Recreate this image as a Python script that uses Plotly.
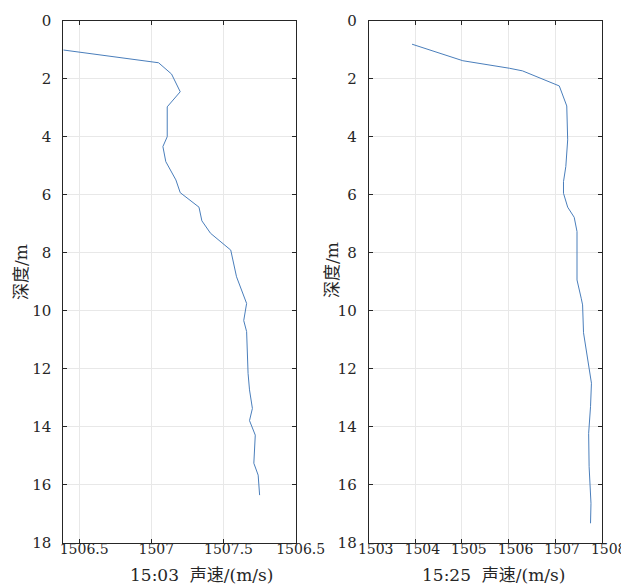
import plotly.graph_objects as go
from plotly.subplots import make_subplots

# 15:03 profile
speed_1503 = [1506.39, 1507.05, 1507.14, 1507.20, 1507.11, 1507.11, 1507.08, 1507.10,
              1507.17, 1507.20, 1507.33, 1507.35, 1507.41, 1507.55, 1507.59, 1507.65,
              1507.66, 1507.64, 1507.66, 1507.67, 1507.68, 1507.70, 1507.68, 1507.72,
              1507.71, 1507.74, 1507.75]
depth_1503 = [1.01, 1.45, 1.84, 2.45, 2.97, 4.0, 4.34, 4.86,
              5.49, 5.93, 6.43, 6.90, 7.33, 7.91, 8.83, 9.57,
              9.75, 10.34, 10.72, 12.16, 12.73, 13.37, 13.79, 14.29,
              15.26, 15.67, 16.36]

# 15:25 profile
speed_1525 = [1503.93, 1505.02, 1506.02, 1506.30, 1507.09, 1507.25, 1507.27, 1507.23,
              1507.18, 1507.18, 1507.27, 1507.41, 1507.47, 1507.47, 1507.56, 1507.59,
              1507.61, 1507.72, 1507.78, 1507.76, 1507.72, 1507.73, 1507.77, 1507.76]
depth_1525 = [0.81, 1.38, 1.64, 1.73, 2.25, 2.94, 4.11, 5.03,
              5.55, 5.95, 6.43, 6.78, 7.27, 8.94, 9.57, 9.80,
              10.76, 11.81, 12.50, 13.31, 14.23, 15.38, 16.64, 17.33]

x1_tickvals = [1506.5, 1507, 1507.5, 1508]
x1_ticktext = ["1506.5", "1507", "1507.5", "1506.5"]
x2_tickvals = [1503, 1504, 1505, 1506, 1507, 1508]
y_tickvals = [0, 2, 4, 6, 8, 10, 12, 14, 16, 18]

FONT = "DejaVu Serif, Noto Sans CJK SC"
LINE = "#4a7ebb"
AX = "#262626"
GRID = "#e8e8e8"

W, H = 629, 587
OFF = 8  # page body margin shifts the figure


def px_x(p):
    return (p - OFF) / W


def px_y(p):
    return 1 - (p - OFF) / H


fig = make_subplots(rows=1, cols=2)

fig.add_trace(go.Scatter(x=speed_1503, y=depth_1503, mode="lines",
                         line=dict(color=LINE, width=1)), row=1, col=1)
fig.add_trace(go.Scatter(x=speed_1525, y=depth_1525, mode="lines",
                         line=dict(color=LINE, width=1)), row=1, col=2)

common = dict(showline=True, linecolor=AX, linewidth=1, mirror="ticks",
              ticks="inside", ticklen=4, tickcolor=AX,
              showgrid=True, gridcolor=GRID, zeroline=False,
              tickfont=dict(family=FONT, size=15, color=AX), automargin=False)

fig.update_xaxes(common)
fig.update_yaxes(common)

fig.update_xaxes(tickfont=dict(family=FONT, size=14, color=AX), ticklabelstandoff=-7)
fig.update_xaxes(range=[1506.39, 1508], tickvals=x1_tickvals, ticktext=x1_ticktext,
                 domain=[px_x(63.3), px_x(295.7)], ticklabelshift=5, row=1, col=1)
fig.update_xaxes(range=[1503, 1508], tickvals=x2_tickvals,
                 domain=[px_x(368.7), px_x(601.7)], ticklabelshift=7, row=1, col=2)
fig.update_yaxes(range=[18, 0], tickvals=y_tickvals,
                 domain=[px_y(542.7), px_y(20.7)], ticklabelstandoff=8)

# axis titles
for xc, txt in [(201, "15:03  声速/(m/s)"), (493, "15:25  声速/(m/s)")]:
    fig.add_annotation(text=txt, xref="paper", yref="paper", x=px_x(xc), y=px_y(575),
                       xanchor="center", yanchor="middle", showarrow=False,
                       font=dict(family=FONT, size=17, color=AX))
for xc, yc in [(21, 272), (332, 270)]:
    fig.add_annotation(text="深度/m", xref="paper", yref="paper", x=px_x(xc), y=px_y(yc),
                       xanchor="center", yanchor="middle", textangle=-90, showarrow=False,
                       font=dict(family=FONT, size=17, color=AX))

fig.update_layout(width=W, height=H, showlegend=False,
                  margin=dict(l=0, r=0, t=0, b=0),
                  plot_bgcolor="white", paper_bgcolor="white")

fig.write_html("out.html")
